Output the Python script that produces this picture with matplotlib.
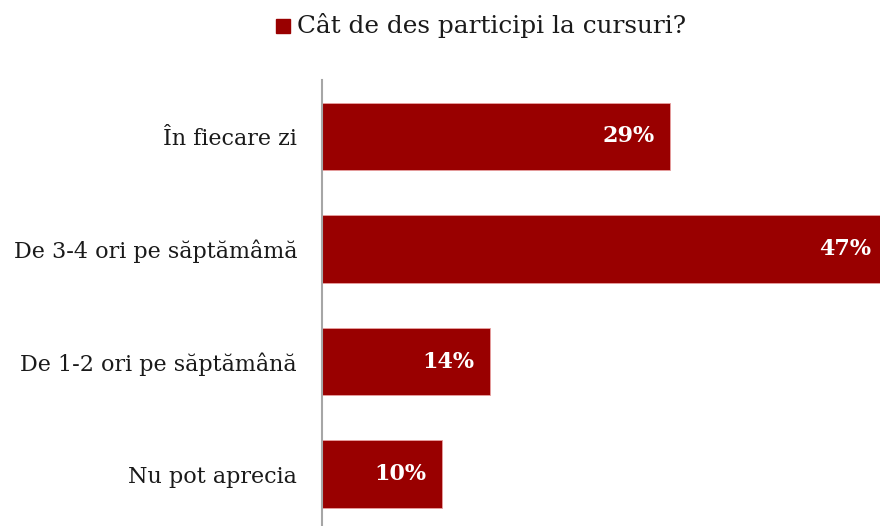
import matplotlib
matplotlib.use("Agg")
import matplotlib.pyplot as plt
from matplotlib.patches import Rectangle

# date
categorii = ["În fiecare zi", "De 3-4 ori pe săptămâmă", "De 1-2 ori pe săptămână", "Nu pot aprecia"]
procente = [29, 47, 14, 10]
titlu = "Cât de des participi la cursuri?"

culoare = "#990000"
plt.rcParams["font.family"] = ["DejaVu Serif"]

fig = plt.figure(figsize=(8.8, 5.26), dpi=100)
ax = fig.add_axes([322 / 880, 0, 1 - 322 / 880, 446 / 526])

poz = list(range(len(categorii)))
ax.barh(poz, procente, height=0.6, color=culoare, edgecolor="#e8a0a0", linewidth=0.6)

for y, v in zip(poz, procente):
    ax.annotate(f"{v}%", xy=(v, y), xytext=(-11, 0), textcoords="offset points",
                ha="right", va="center", color="white", fontsize=16, fontweight="bold",
                annotation_clip=False)

ax.set_xlim(0, 46.5)
ax.set_ylim(3.46, -0.5)
ax.set_yticks(poz)
ax.set_yticklabels(categorii, fontsize=16, color="#1a1a1a")
ax.tick_params(axis="y", length=0, pad=18)
ax.set_xticks([])
for s in ["top", "right", "bottom"]:
    ax.spines[s].set_visible(False)
ax.spines["left"].set_color("#a6a6a6")
ax.spines["left"].set_linewidth(1.5)

# legenda
fig.patches.append(Rectangle((276 / 880, 1 - 33 / 526), 14 / 880, 14 / 526,
                             transform=fig.transFigure, color=culoare))
fig.text(297 / 880, 1 - 26 / 526, titlu, ha="left", va="center", fontsize=17.8, color="#1a1a1a")

fig.savefig("out.png", dpi=100)
